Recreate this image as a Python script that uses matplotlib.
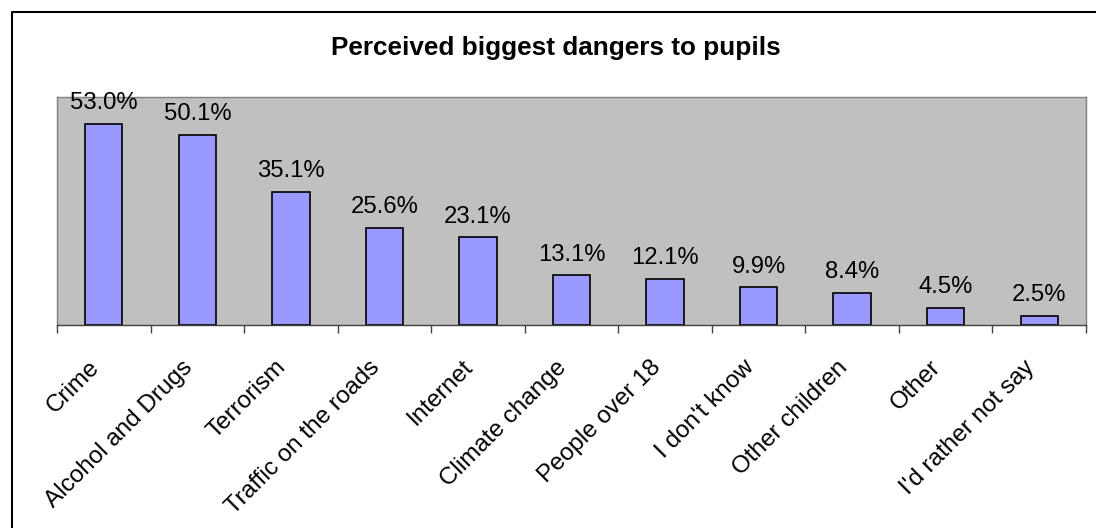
import numpy as np
import matplotlib
matplotlib.use("Agg")
import matplotlib.pyplot as plt
from matplotlib.lines import Line2D
from matplotlib.transforms import ScaledTranslation

# survey answers, percent of pupils
categories = ["Crime", "Alcohol and Drugs", "Terrorism", "Traffic on the roads",
              "Internet", "Climate change", "People over 18", "I don't know",
              "Other children", "Other", "I'd rather not say"]
values = [53.0, 50.1, 35.1, 25.6, 23.1, 13.1, 12.1, 9.9, 8.4, 4.5, 2.5]
title = "Perceived biggest dangers to pupils"

plt.rcParams["font.family"] = ["Liberation Sans", "DejaVu Sans"]

W, H = 1096, 528
fig = plt.figure(figsize=(W / 100, H / 100), dpi=100)
fig.patch.set_facecolor("white")

ax = fig.add_axes([57 / W, 1 - 325 / H, (1086 - 57) / W, (325 - 97) / H])
ax.set_facecolor("#c0c0c0")

x = np.arange(len(categories))
bars = ax.bar(x, values, width=0.4, color="#9999ff", edgecolor="black", linewidth=1.2, zorder=2)

for xi, v in zip(x, values):
    ax.annotate(f"{v:.1f}%", (xi, v), xytext=(0, 10.5), textcoords="offset points",
                ha="center", va="baseline", fontsize=17.2, color="black")

ax.set_xlim(-0.5, len(categories) - 0.5)
ax.set_ylim(0, 60)
ax.set_yticks([])

# ticks sit between categories, labels at the centres
ax.set_xticks(np.arange(-0.5, len(categories)), minor=False)
ax.set_xticklabels([])
ax.tick_params(axis="x", which="major", direction="out", length=6, width=1, color="#404040")
ax.set_xticks(x, minor=True)
ax.set_xticklabels(categories, minor=True, rotation=45, ha="right", va="center",
                   rotation_mode="anchor", fontsize=17.5)
ax.tick_params(axis="x", which="minor", length=0, pad=28)
shift = ScaledTranslation(-8 / 100, 0, fig.dpi_scale_trans)
for lab in ax.get_xticklabels(minor=True):
    lab.set_transform(lab.get_transform() + shift)

for side in ["top", "right", "left"]:
    ax.spines[side].set_color("#808080")
    ax.spines[side].set_linewidth(1)
ax.spines["bottom"].set_color("#404040")
ax.spines["bottom"].set_linewidth(1)

fig.text(556 / W, 1 - 55 / H, title, ha="center", va="baseline",
         fontsize=18.8, fontweight="bold")

# outer chart frame (only top and left edges are inside the image)
fig.add_artist(Line2D([12 / W, 12 / W, 1.0], [0.0, 1 - 12 / H, 1 - 12 / H],
                      transform=fig.transFigure, color="black", linewidth=1.5))

fig.savefig("out.png", dpi=100)
